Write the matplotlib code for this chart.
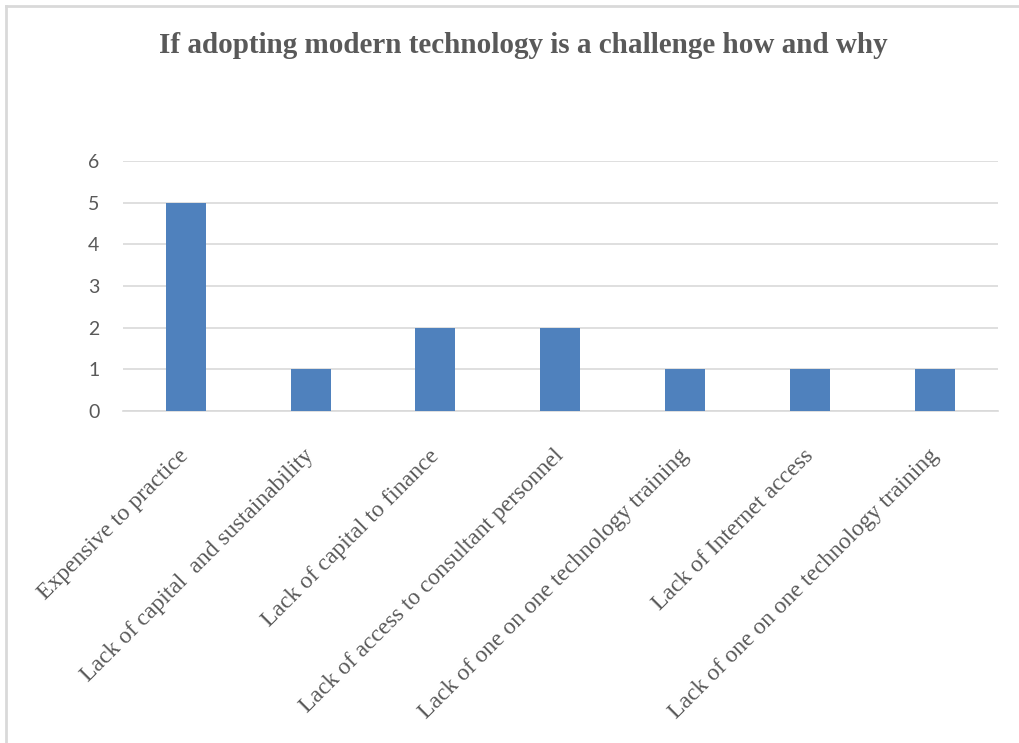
import matplotlib.pyplot as plt
from matplotlib.lines import Line2D

# survey responses: why adopting modern technology is hard
reasons = [
    "Expensive to practice",
    "Lack of capital  and sustainability",
    "Lack of capital to finance",
    "Lack of access to consultant personnel",
    "Lack of one on one technology training",
    "Lack of Internet access",
    "Lack of one on one technology training",
]
counts = [5, 1, 2, 2, 1, 1, 1]
y_ticks = [0, 1, 2, 3, 4, 5, 6]

text_grey = "#595959"
bar_blue = "#4F81BD"

fig = plt.figure(figsize=(10.2, 7.43), dpi=100)
ax = fig.add_axes([0.1206, 0.4468, 0.8578, 0.3365])

x = list(range(len(reasons)))
ax.bar(x, counts, width=0.32, color=bar_blue, zorder=3)

ax.set_xlim(-0.5, len(reasons) - 0.5)
ax.set_ylim(0, 6)
ax.set_yticks(y_ticks)
ax.set_yticklabels([str(t) for t in y_ticks], fontsize=14, color=text_grey,
                   family="Lato")
ax.yaxis.grid(True, color="#D9D9D9", linewidth=1.2, zorder=0)
ax.tick_params(axis="y", length=0, pad=17)
ax.tick_params(axis="x", length=0, pad=30)

ax.set_xticks(x)
ax.set_xticklabels(reasons, rotation=45, ha="right", va="center",
                   rotation_mode="anchor", fontsize=17, color=text_grey,
                   family="Liberation Serif")

for side in ["top", "right", "left"]:
    ax.spines[side].set_visible(False)
ax.spines["bottom"].set_color("#D9D9D9")
ax.spines["bottom"].set_linewidth(1.2)

fig.text(0.513, 0.939, "If adopting modern technology is a challenge how and why",
         ha="center", va="center", fontsize=21, fontweight="bold",
         color=text_grey, family="Liberation Serif")

# thin frame along the left and top edges
fig.add_artist(Line2D([0.006, 0.006], [0, 0.992], transform=fig.transFigure,
                      color="#D9D9D9", linewidth=2))
fig.add_artist(Line2D([0.006, 1.0], [0.992, 0.992], transform=fig.transFigure,
                      color="#D9D9D9", linewidth=2))

fig.savefig("out.png", dpi=100, facecolor="white")
